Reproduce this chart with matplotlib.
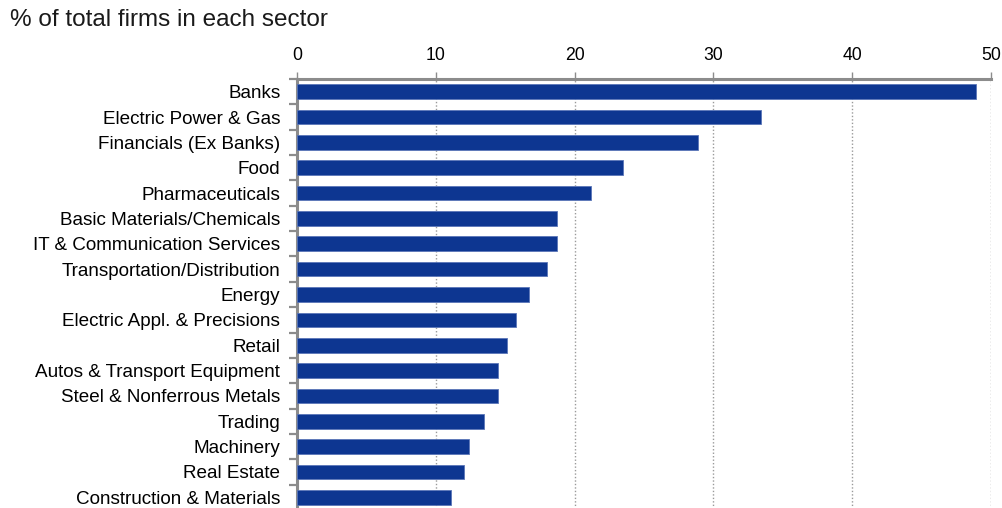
import numpy as np
import matplotlib
matplotlib.use("Agg")
import matplotlib.pyplot as plt

# sector shares, % of total firms in each sector
sectors = [
    "Banks", "Electric Power & Gas", "Financials (Ex Banks)", "Food",
    "Pharmaceuticals", "Basic Materials/Chemicals",
    "IT & Communication Services", "Transportation/Distribution",
    "Energy", "Electric Appl. & Precisions", "Retail",
    "Autos & Transport Equipment", "Steel & Nonferrous Metals",
    "Trading", "Machinery", "Real Estate", "Construction & Materials",
]
shares = [48.9, 33.4, 28.9, 23.5, 21.2, 18.7, 18.7, 18.0,
          16.7, 15.8, 15.1, 14.5, 14.5, 13.5, 12.4, 12.0, 11.1]
x_ticks = [0, 10, 20, 30, 40, 50]

BAR_BLUE = "#0d3691"
GREY = "#8c8c8c"

plt.rcParams["font.family"] = ["Liberation Sans", "DejaVu Sans"]

fig = plt.figure(figsize=(10.03, 5.08), dpi=100)
ax = fig.add_axes([297 / 1003, -2 / 508, 694 / 1003, 431 / 508])

pos = np.arange(len(sectors))
ax.barh(pos, shares, height=0.58, color=BAR_BLUE,
        edgecolor="#5a76b8", linewidth=0.6, zorder=3)

ax.set_xlim(0, 50)
ax.set_ylim(len(sectors) - 0.5, -0.5)

# x axis on top
ax.xaxis.tick_top()
ax.set_xticks(x_ticks)
ax.set_xticklabels([str(t) for t in x_ticks], fontsize=12.7)
ax.tick_params(axis="x", direction="out", length=5, width=1,
               color=GREY, pad=6)

# category labels, ticks sit between the bars
ax.set_yticks(pos)
ax.set_yticklabels(sectors, fontsize=13.6)
ax.tick_params(axis="y", which="major", length=0, pad=12)
ax.set_yticks(np.arange(-0.5, len(sectors), 1.0), minor=True)
ax.tick_params(axis="y", which="minor", direction="out", length=6,
               width=1.6, color=GREY)

for g in x_ticks[1:]:
    ax.axvline(g, color="#9a9a9a", linestyle=(0, (1, 1.5)),
               linewidth=1, zorder=1)

for side in ("right", "bottom"):
    ax.spines[side].set_visible(False)
for side in ("top", "left"):
    ax.spines[side].set_color(GREY)
    ax.spines[side].set_linewidth(2.2)

fig.text(10 / 1003, 1 - 20 / 508, "% of total firms in each sector",
         fontsize=17.5, va="center", ha="left", color="#1a1a1a")

fig.savefig("out.png", dpi=100)
